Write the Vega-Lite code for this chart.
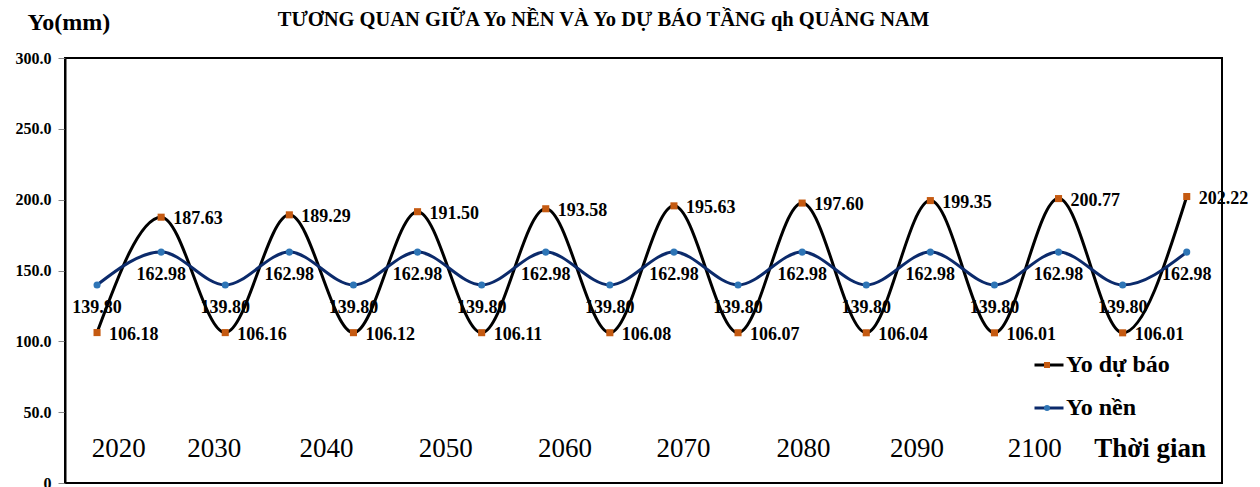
{
  "$schema": "https://vega.github.io/schema/vega-lite/v6.json",
  "width": 1157,
  "height": 425,
  "autosize": {"type": "none"},
  "padding": {"left": 65, "top": 58, "right": 38, "bottom": 4},
  "background": "white",
  "config": {
    "view": {"stroke": "#000", "strokeWidth": 2},
    "font": "Liberation Serif",
    "axisY": {"labelFont": "Liberation Serif", "labelFontSize": 16, "labelFontWeight": "bold", "labelColor": "#000", "tickColor": "#888", "tickSize": 7, "labelPadding": 7, "domainColor": "#000", "domainWidth": 2, "grid": false, "titleAngle": 0, "titleAlign": "left", "titleBaseline": "middle", "titleX": -38, "titleY": -36, "titleFont": "Liberation Serif", "titleFontSize": 24, "titleFontWeight": "bold", "titleColor": "#000"},
    "legend": {"labelFont": "Liberation Serif", "labelFontSize": 24, "labelFontWeight": "bold", "labelColor": "#000", "padding": 0, "rowPadding": 19, "clipHeight": 24}
  },
  "title": {"text": "TƯƠNG QUAN GIỮA Yo NỀN VÀ Yo DỰ BÁO TẦNG qh QUẢNG NAM", "font": "Liberation Serif", "fontSize": 20.5, "fontWeight": "bold", "color": "#000", "anchor": "middle", "frame": "group", "dx": -40, "dy": 20, "offset": 0},
  "datasets": {
    "series": [
      {"i": 0, "series": "Yo dự báo", "s2": "dự báo", "value": 106.18},
      {"i": 1, "series": "Yo dự báo", "s2": "dự báo", "value": 187.63},
      {"i": 2, "series": "Yo dự báo", "s2": "dự báo", "value": 106.16},
      {"i": 3, "series": "Yo dự báo", "s2": "dự báo", "value": 189.29},
      {"i": 4, "series": "Yo dự báo", "s2": "dự báo", "value": 106.12},
      {"i": 5, "series": "Yo dự báo", "s2": "dự báo", "value": 191.50},
      {"i": 6, "series": "Yo dự báo", "s2": "dự báo", "value": 106.11},
      {"i": 7, "series": "Yo dự báo", "s2": "dự báo", "value": 193.58},
      {"i": 8, "series": "Yo dự báo", "s2": "dự báo", "value": 106.08},
      {"i": 9, "series": "Yo dự báo", "s2": "dự báo", "value": 195.63},
      {"i": 10, "series": "Yo dự báo", "s2": "dự báo", "value": 106.07},
      {"i": 11, "series": "Yo dự báo", "s2": "dự báo", "value": 197.60},
      {"i": 12, "series": "Yo dự báo", "s2": "dự báo", "value": 106.04},
      {"i": 13, "series": "Yo dự báo", "s2": "dự báo", "value": 199.35},
      {"i": 14, "series": "Yo dự báo", "s2": "dự báo", "value": 106.01},
      {"i": 15, "series": "Yo dự báo", "s2": "dự báo", "value": 200.77},
      {"i": 16, "series": "Yo dự báo", "s2": "dự báo", "value": 106.01},
      {"i": 17, "series": "Yo dự báo", "s2": "dự báo", "value": 202.22},
      {"i": 0, "series": "Yo nền", "s2": "nền", "value": 139.80},
      {"i": 1, "series": "Yo nền", "s2": "nền", "value": 162.98},
      {"i": 2, "series": "Yo nền", "s2": "nền", "value": 139.80},
      {"i": 3, "series": "Yo nền", "s2": "nền", "value": 162.98},
      {"i": 4, "series": "Yo nền", "s2": "nền", "value": 139.80},
      {"i": 5, "series": "Yo nền", "s2": "nền", "value": 162.98},
      {"i": 6, "series": "Yo nền", "s2": "nền", "value": 139.80},
      {"i": 7, "series": "Yo nền", "s2": "nền", "value": 162.98},
      {"i": 8, "series": "Yo nền", "s2": "nền", "value": 139.80},
      {"i": 9, "series": "Yo nền", "s2": "nền", "value": 162.98},
      {"i": 10, "series": "Yo nền", "s2": "nền", "value": 139.80},
      {"i": 11, "series": "Yo nền", "s2": "nền", "value": 162.98},
      {"i": 12, "series": "Yo nền", "s2": "nền", "value": 139.80},
      {"i": 13, "series": "Yo nền", "s2": "nền", "value": 162.98},
      {"i": 14, "series": "Yo nền", "s2": "nền", "value": 139.80},
      {"i": 15, "series": "Yo nền", "s2": "nền", "value": 162.98},
      {"i": 16, "series": "Yo nền", "s2": "nền", "value": 139.80},
      {"i": 17, "series": "Yo nền", "s2": "nền", "value": 162.98}
    ],
    "years": [
      {"label": "2020", "kind": "year", "at": 0.34},
      {"label": "2030", "kind": "year", "at": 1.83},
      {"label": "2040", "kind": "year", "at": 3.58},
      {"label": "2050", "kind": "year", "at": 5.44},
      {"label": "2060", "kind": "year", "at": 7.30},
      {"label": "2070", "kind": "year", "at": 9.15},
      {"label": "2080", "kind": "year", "at": 11.02},
      {"label": "2090", "kind": "year", "at": 12.79},
      {"label": "2100", "kind": "year", "at": 14.63},
      {"label": "Thời gian", "kind": "axis", "at": 16.43}
    ]
  },
  "data": {"name": "series"},
  "layer": [
    {
      "transform": [{"filter": "datum.series == 'Yo nền'"}],
      "mark": {"type": "text", "align": "center", "baseline": "middle", "dy": 23, "font": "Liberation Serif", "fontSize": 18, "fontWeight": "bold", "color": "#000"},
      "encoding": {
        "x": {"field": "i", "type": "quantitative", "scale": {"domain": [-0.5, 17.55], "nice": false, "zero": false}, "axis": null},
        "y": {"field": "value", "type": "quantitative", "scale": {"domain": [0, 300], "nice": false, "zero": true},
          "axis": {"values": [0, 50, 100, 150, 200, 250, 300], "labelExpr": "datum.value == 0 ? '0' : format(datum.value, '.1f')", "title": "Yo(mm)", "labelFont": "Liberation Serif", "labelFontSize": 16, "labelFontWeight": "bold", "labelColor": "#000"}},
        "text": {"field": "value", "type": "quantitative", "format": ".2f"}
      }
    },
    {
      "transform": [{"filter": "datum.series == 'Yo dự báo'"}],
      "mark": {"type": "text", "align": "left", "baseline": "middle", "dx": 12, "dy": 2, "font": "Liberation Serif", "fontSize": 18, "fontWeight": "bold", "color": "#000"},
      "encoding": {
        "x": {"field": "i", "type": "quantitative"},
        "y": {"field": "value", "type": "quantitative"},
        "text": {"field": "value", "type": "quantitative", "format": ".2f"}
      }
    },
    {
      "mark": {"type": "line", "interpolate": "monotone", "strokeWidth": 3},
      "encoding": {
        "x": {"field": "i", "type": "quantitative"},
        "y": {"field": "value", "type": "quantitative"},
        "color": {"field": "series", "type": "nominal", "scale": {"domain": ["Yo dự báo", "Yo nền"], "range": ["#000000", "#0B2A6B"]},
          "legend": {"orient": "none", "legendX": 968, "legendY": 295, "title": null, "symbolType": "stroke", "symbolStrokeWidth": 3, "symbolSize": 841, "labelOffset": 1}}
      }
    },
    {
      "mark": {"type": "point", "filled": true, "size": 50, "opacity": 1, "strokeWidth": 0},
      "encoding": {
        "x": {"field": "i", "type": "quantitative"},
        "y": {"field": "value", "type": "quantitative"},
        "shape": {"field": "s2", "type": "nominal", "scale": {"domain": ["dự báo", "nền"], "range": ["square", "circle"]},
          "legend": {"orient": "none", "legendX": 970, "legendY": 295, "title": null, "symbolSize": 36, "symbolStrokeWidth": 0, "labelColor": "transparent"}},
        "fill": {"field": "s2", "type": "nominal", "scale": {"domain": ["dự báo", "nền"], "range": ["#C55A11", "#2E75B6"]},
          "legend": {"orient": "none", "legendX": 970, "legendY": 295, "title": null, "symbolSize": 36, "symbolStrokeWidth": 0, "labelColor": "transparent"}}
      }
    },
    {
      "data": {"name": "years"},
      "transform": [{"filter": "datum.kind == 'year'"}],
      "mark": {"type": "text", "align": "center", "baseline": "middle", "font": "Liberation Serif", "fontSize": 27, "color": "#000"},
      "encoding": {
        "x": {"field": "at", "type": "quantitative"},
        "y": {"datum": 24},
        "text": {"field": "label"}
      }
    },
    {
      "data": {"name": "years"},
      "transform": [{"filter": "datum.kind == 'axis'"}],
      "mark": {"type": "text", "align": "center", "baseline": "middle", "font": "Liberation Serif", "fontSize": 27, "fontWeight": "bold", "color": "#000"},
      "encoding": {
        "x": {"field": "at", "type": "quantitative"},
        "y": {"datum": 24},
        "text": {"field": "label"}
      }
    }
  ]
}
